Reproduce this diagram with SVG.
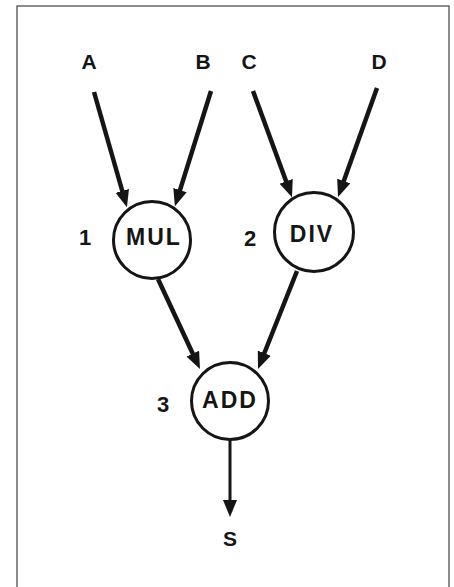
<svg xmlns="http://www.w3.org/2000/svg" width="454" height="587" viewBox="0 0 454 587">
<style>
  text { font-family: "Liberation Sans", Arial, sans-serif; font-weight: bold; fill: #151515; }
  .lbl { font-size: 21px; text-anchor: middle; }
  .op { font-size: 23px; text-anchor: middle; letter-spacing: 2px; }
  .num { font-size: 22px; text-anchor: middle; }
  .node circle { fill: #fff; stroke: #151515; stroke-width: 3; }
  .edge { fill: none; stroke: #151515; stroke-width: 4.5; marker-end: url(#ah); }
  .thin { stroke-width: 3; }
</style>
<defs>
  <marker id="ah" markerUnits="userSpaceOnUse" markerWidth="18" markerHeight="15" refX="10" refY="7" orient="auto">
    <path d="M0,0 L17,7 L0,14 z" fill="#151515"/>
  </marker>
</defs>
<rect x="0" y="0" width="454" height="587" fill="#fff"/>
<rect x="17" y="6" width="432" height="620" fill="none" stroke="#666" stroke-width="1.5"/>
<g id="inputs">
  <text class="lbl" x="89" y="69">A</text>
  <text class="lbl" x="203" y="69">B</text>
  <text class="lbl" x="249" y="69">C</text>
  <text class="lbl" x="379" y="69">D</text>
</g>
<g id="connectors">
  <line class="edge" x1="94" y1="92" x2="125" y2="200.5"/>
  <line class="edge" x1="211" y1="91" x2="177" y2="199.6"/>
  <line class="edge" x1="253" y1="91" x2="289.6" y2="190.7"/>
  <line class="edge" x1="377" y1="88" x2="340.4" y2="190.4"/>
  <line class="edge" x1="158" y1="279" x2="197" y2="362.7"/>
  <line class="edge" x1="297" y1="271" x2="260.6" y2="362.5"/>
  <line class="edge thin" x1="230" y1="439" x2="230" y2="510"/>
</g>
<g id="node-mul" class="node">
  <circle cx="152" cy="240" r="38.5"/>
  <text class="op" x="154" y="245">MUL</text>
  <text class="num" x="85" y="245">1</text>
</g>
<g id="node-div" class="node">
  <circle cx="314" cy="232" r="39.5"/>
  <text class="op" x="312" y="242">DIV</text>
  <text class="num" x="250" y="246">2</text>
</g>
<g id="node-add" class="node">
  <circle cx="230" cy="401" r="38.5"/>
  <text class="op" x="230" y="408">ADD</text>
  <text class="num" x="163" y="412">3</text>
</g>
<g id="output">
  <text class="lbl" x="230" y="546">S</text>
</g>
</svg>
